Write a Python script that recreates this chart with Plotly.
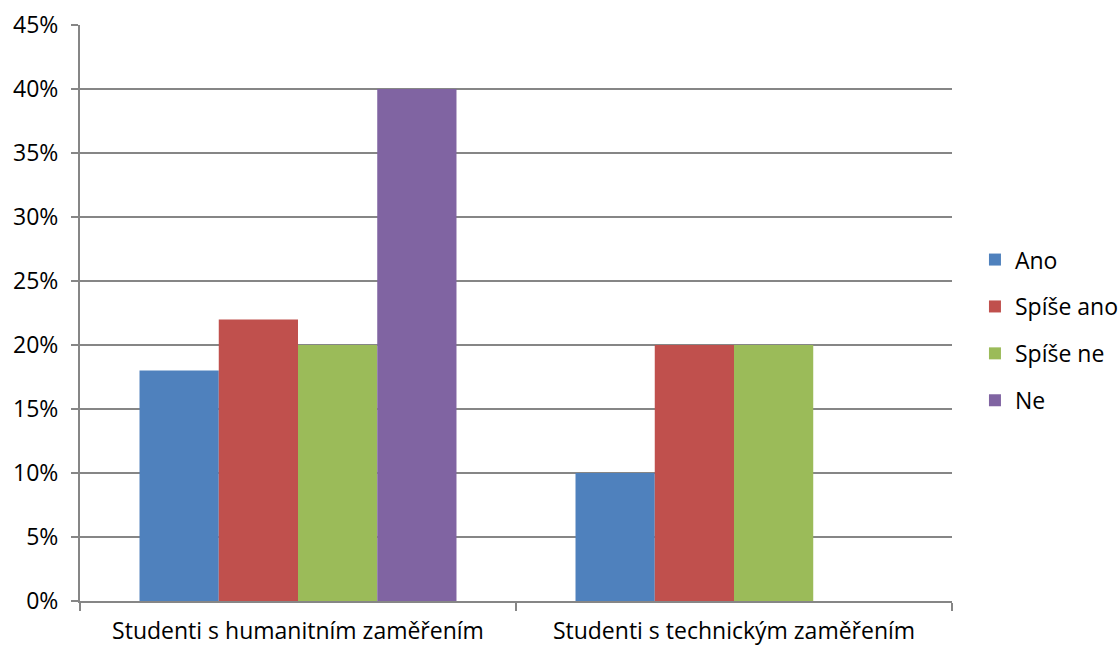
import plotly.graph_objects as go

categories = ["Studenti s humanitním zaměřením", "Studenti s technickým zaměřením"]
series_names = ["Ano", "Spíše ano", "Spíše ne", "Ne"]
ano = [0.18, 0.10]
spise_ano = [0.22, 0.20]
spise_ne = [0.20, 0.20]
ne = [0.40, None]
colors = ["#4F81BD", "#C0504D", "#9BBB59", "#8064A2"]

values = [ano, spise_ano, spise_ne, ne]
FONT = "Open Sans"
GRID = "#868686"
FS = 23

fig = go.Figure()
for name, vals, col in zip(series_names, values, colors):
    fig.add_trace(go.Bar(
        x=categories, y=vals, name=name, legendgroup=name,
        marker=dict(color=col, line=dict(width=0)),
    ))

fig.update_layout(
    width=1120, height=646,
    margin=dict(l=80, r=168, t=25, b=45),
    paper_bgcolor="white", plot_bgcolor="white",
    barmode="group", bargap=0.273, bargroupgap=0,
    font=dict(family=FONT, size=FS, color="#000000"),
    legend=dict(
        x=0.8705, xref="container", xanchor="left",
        y=0.489, yref="container", yanchor="middle",
        font=dict(family=FONT, size=FS, color="#000000"),
        tracegroupgap=14, itemwidth=30,
    ),
    xaxis=dict(
        showline=True, linecolor=GRID, linewidth=2,
        ticks="outside", tickson="boundaries", ticklen=8, tickcolor=GRID, tickwidth=2,
        showgrid=False, tickfont=dict(family=FONT, size=FS),
        ticklabelstandoff=8, automargin=False,
    ),
    yaxis=dict(
        range=[0, 0.45], dtick=0.05, tickformat=".0%",
        showline=True, linecolor=GRID, linewidth=2,
        ticks="outside", ticklen=7, tickcolor=GRID, tickwidth=2,
        showgrid=True, gridcolor=GRID, gridwidth=2,
        zeroline=False, tickfont=dict(family=FONT, size=FS),
        ticklabelstandoff=8, automargin=False,
    ),
)

fig.write_html("out.html")
